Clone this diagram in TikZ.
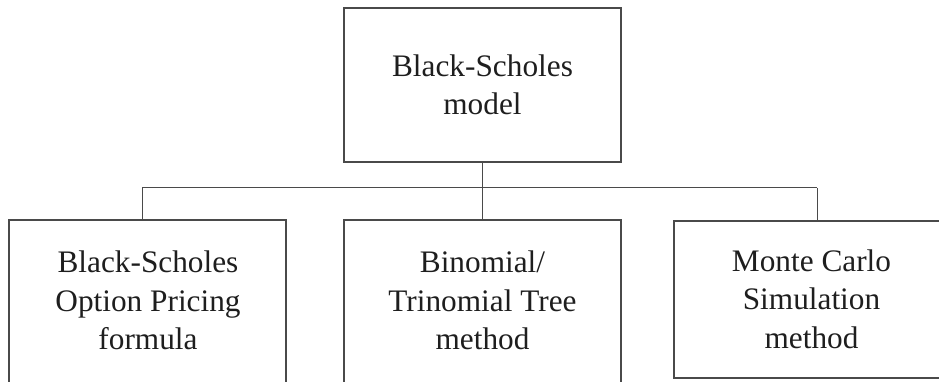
\documentclass[tikz,border=0pt]{standalone}
\usepackage{fontspec}
\setmainfont{Liberation Serif}
\definecolor{linegray}{HTML}{4A4A4A}
\definecolor{textblack}{HTML}{1E1E1E}
\begin{document}
\begin{tikzpicture}[x=1pt,y=-1pt,
  box/.style={draw=linegray, line width=1.1pt, inner sep=0pt},
  lbl/.style={align=center, font=\fontsize{31.3}{38.5}\selectfont, text=textblack, inner sep=0pt},
  conn/.style={draw=linegray, line width=1pt}]
\useasboundingbox (0,0) rectangle (939,382);
\clip (0,0) rectangle (939,382);
% boxes
\node[box, minimum width=277pt, minimum height=154pt] (top) at (482.5,85) {};
\node[box, minimum width=277pt, minimum height=175pt] (b1) at (147.5,307.5) {};
\node[box, minimum width=277pt, minimum height=175pt] (b2) at (482.5,307.5) {};
\node[box, minimum width=275pt, minimum height=157pt] (b3) at (811.5,299.5) {};
% texts
\node[lbl] (ttop) at (482.5,85) {Black-Scholes\\model};
\node[lbl] (tb1) at (148,300.5) {Black-Scholes\\Option Pricing\\formula};
\node[lbl] (tb2) at (482.5,300.5) {Binomial/\\Trinomial Tree\\method};
\node[lbl] (tb3) at (811.5,299) {Monte Carlo\\Simulation\\method};
% connectors
\coordinate (jl) at (142,188);
\coordinate (jr) at (817,188);
\draw[conn] (top.south) -- (b2.north);
\draw[conn] (jl) -- (jr);
\draw[conn] (jl) -- (jl |- b1.north);
\draw[conn] (jr) -- (jr |- b3.north);
\end{tikzpicture}
\end{document}
